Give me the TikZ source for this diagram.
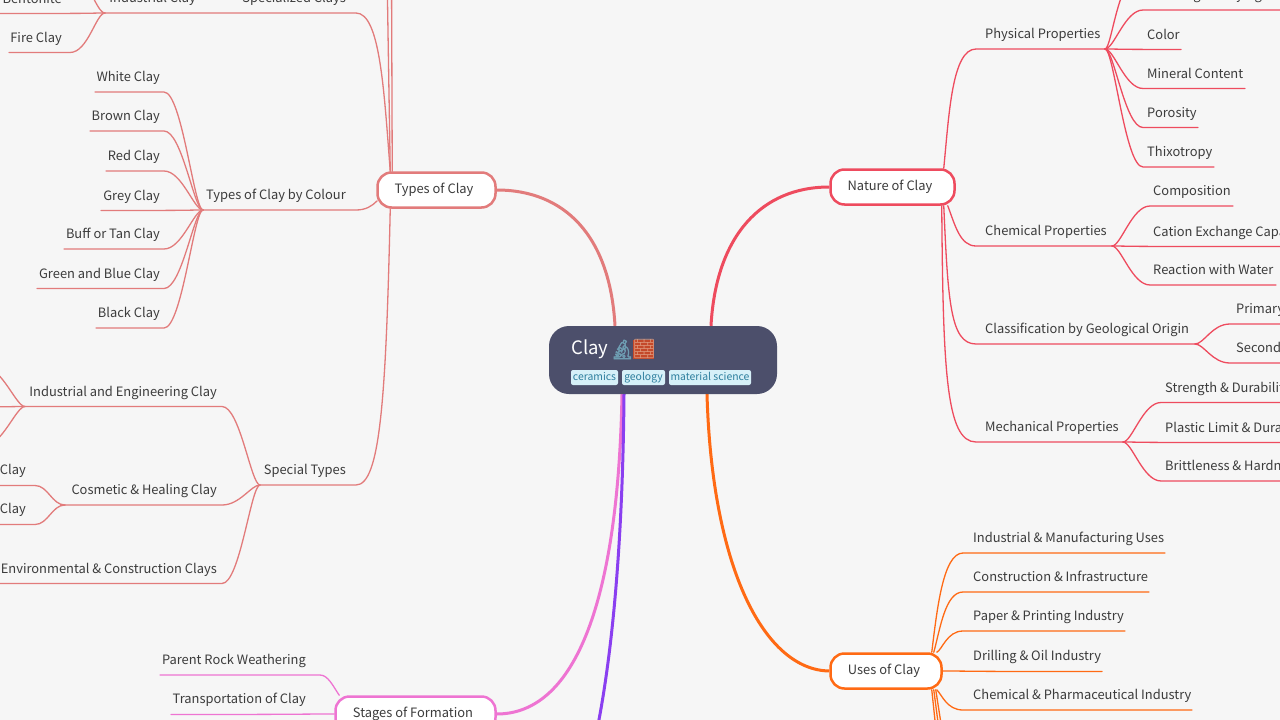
\documentclass[tikz,border=0pt]{standalone}
\usepackage{fontspec}
\setmainfont{Noto Sans CJK SC}
\newfontfamily\emojifont{Noto Emoji}
\newfontfamily\emojibold[FakeBold=2.5]{Noto Emoji}
\usetikzlibrary{backgrounds}
\definecolor{bgc}{HTML}{F6F6F6}
\definecolor{txt}{HTML}{3C3C3C}
\definecolor{natc}{HTML}{EE4B5E}
\definecolor{typc}{HTML}{E27B7B}
\definecolor{usec}{HTML}{FF6A14}
\definecolor{stgc}{HTML}{EE74D2}
\definecolor{purc}{HTML}{8A3FF0}
\definecolor{ctrc}{HTML}{4C4F6B}
\definecolor{tagc}{HTML}{D6F0F8}
\definecolor{tagt}{HTML}{2E7F9E}
\definecolor{micc}{HTML}{6E9DB2}
\definecolor{brkc}{HTML}{C4492A}
\definecolor{mortar}{HTML}{DE9A7E}
\tikzset{
  lbl/.style={text=txt,font=\fontsize{12.9}{16}\selectfont,inner sep=0pt,text height=10.5pt,text depth=3pt,yshift=-1.5pt},
  mainbox/.style={draw=#1,line width=2.5pt,fill=white,rounded corners=14pt,text=txt,inner sep=0pt},
  tagbox/.style={fill=tagc,text=tagt,rounded corners=2pt,inner sep=0pt,font=\fontsize{10.4}{13}\selectfont,text height=7.5pt,text depth=2.5pt},
  thick edge/.style={draw=#1,line width=3pt},
  thin edge/.style={draw=#1,line width=1.3pt,line cap=round},
}
% right-hand leaf: name, parent point, colour, text x, line y, line start x, line end x, text
\newcommand{\rleaf}[8]{%
  \node[lbl,anchor=west] (#1) at (#4,#5-15.5) {#8};
  \coordinate (#1-a) at (#6,#5);
  \coordinate (#1-b) at (#7,#5);
  \begin{scope}[on background layer]
  \draw[thin edge=#3] (#2) .. controls ([xshift=9pt]#2) and ([xshift=-18pt]#1-a) .. (#1-a) -- (#1-b);
  \end{scope}}
% left-hand leaf: same, text x is the right end of the text
\newcommand{\lleaf}[8]{%
  \node[lbl,anchor=east] (#1) at (#4,#5-15.5) {#8};
  \coordinate (#1-a) at (#6,#5);
  \coordinate (#1-b) at (#7,#5);
  \begin{scope}[on background layer]
  \draw[thin edge=#3] (#2) .. controls ([xshift=-9pt]#2) and ([xshift=18pt]#1-a) .. (#1-a) -- (#1-b);
  \end{scope}}
\begin{document}
\begin{tikzpicture}[x=1pt,y=-1pt]
\useasboundingbox (0,0) rectangle (1280,720);
\clip (0,0) rectangle (1280,720);
\begin{scope}[on background layer]
\fill[bgc] (0,0) rectangle (1280,720);
\end{scope}

% centre
\node[fill=ctrc,rounded corners=20pt,minimum width=228pt,minimum height=68pt,inner sep=0pt] (clay) at (663,360) {};
\node[anchor=west,text=white,inner sep=0pt,font=\fontsize{18.5}{22}\selectfont] (title) at (571,349.5) {Clay};
\node[anchor=west,inner sep=0pt,font=\emojibold\fontsize{19}{22}\selectfont,text=micc] (mic) at (610,349.5) {🔬};
\fill[brkc] (633,340) rectangle (654,359);
\node[anchor=west,inner sep=0pt,font=\emojifont\fontsize{19}{22}\selectfont,text=mortar] (brick) at (632,349.5) {🧱};
\node[tagbox,minimum width=47pt,minimum height=15pt] (tag1) at (594.5,377.5) {ceramics};
\node[tagbox,minimum width=43pt,minimum height=15pt] (tag2) at (643.5,377.5) {geology};
\node[tagbox,minimum width=82pt,minimum height=15pt] (tag3) at (710,377.5) {material science};

% main topics
\node[mainbox=natc,minimum width=124pt,minimum height=35pt] (nature) at (892.5,187) {};
\node[lbl] (naturet) at (890,185) {Nature of Clay};
\node[mainbox=usec,minimum width=111pt,minimum height=35pt] (uses) at (886,671) {};
\node[lbl] (usest) at (884,669) {Uses of Clay};
\node[mainbox=typc,minimum width=118pt,minimum height=35pt] (types) at (436.5,190) {};
\node[lbl] (typest) at (434,188) {Types of Clay};
\node[mainbox=stgc,minimum width=160pt,minimum height=35pt] (stages) at (415.5,714) {};
\node[lbl] (stagest) at (413,712) {Stages of Formation};

% attachment points on the boxes
\coordinate (cN) at ([xshift=48pt]clay.north);
\coordinate (cT) at ([xshift=-48pt]clay.north);
\coordinate (cU) at ([xshift=44pt]clay.south);
\coordinate (cS) at ([xshift=-41pt]clay.south);
\coordinate (cP) at ([xshift=-39pt]clay.south);
\coordinate (purend) at (597,730);

\begin{scope}[on background layer]
\draw[thick edge=natc] (cN) .. controls (716,235) and (762,187) .. (nature.west);
\draw[thick edge=typc] (cT) .. controls (610,235) and (564,190) .. (types.east);
\draw[thick edge=usec] (cU) .. controls (712,570) and (765,670) .. (uses.west);
\draw[thick edge=stgc] (cS) .. controls (618,610) and (572,714) .. (stages.east);
\draw[thick edge=purc] (cP) .. controls (623,520) and (615,640) .. (purend);
\end{scope}

% ---- Nature of Clay ----
\coordinate (nP) at ([xshift=-12pt]nature.north east);
\coordinate (nC) at ([xshift=-8pt]nature.south east);
\coordinate (nG) at ([xshift=-12pt]nature.south east);
\coordinate (nM) at ([xshift=-14pt]nature.south east);
\coordinate (hPhys) at (1105,49);
\coordinate (hChem) at (1112,246);
\coordinate (hGeo) at (1195,344);
\coordinate (hMech) at (1123,442);
\node[lbl,anchor=west] (phys) at (985,33.5) {Physical Properties};
\node[lbl,anchor=west] (chem) at (985,230.5) {Chemical Properties};
\node[lbl,anchor=west] (geo) at (985,328.5) {Classification by Geological Origin};
\node[lbl,anchor=west] (mech) at (985,426.5) {Mechanical Properties};
\begin{scope}[on background layer]
\draw[thin edge=natc] (nP) .. controls (949,115) and (952,49) .. (976,49) -- (hPhys);
\draw[thin edge=natc] (nC) .. controls (955,225) and (960,246) .. (976,246) -- (hChem);
\draw[thin edge=natc] (nG) .. controls (948,300) and (950,344) .. (976,344) -- (hGeo);
\draw[thin edge=natc] (nM) .. controls (943,370) and (946,442) .. (976,442) -- (hMech);
\end{scope}

\coordinate (pU1) at (1143,-29);
\coordinate (pU1b) at (1290,-29);
\begin{scope}[on background layer]
\draw[thin edge=natc] (hPhys) .. controls (1112,49) and (1118,-29) .. (pU1) -- (pU1b);
\end{scope}
\rleaf{dry}{hPhys}{natc}{1147}{10}{1143}{1290}{Shrinkage \& Drying}
\rleaf{color}{hPhys}{natc}{1147}{49.4}{1143}{1181}{Color}
\rleaf{mineral}{hPhys}{natc}{1147}{88.5}{1143}{1245}{Mineral Content}
\rleaf{poro}{hPhys}{natc}{1147}{127.5}{1143}{1198}{Porosity}
\rleaf{thixo}{hPhys}{natc}{1147}{167}{1143}{1214}{Thixotropy}
\rleaf{compo}{hChem}{natc}{1153}{206}{1150}{1233}{Composition}
\rleaf{cec}{hChem}{natc}{1153}{246.4}{1150}{1290}{Cation Exchange Capacity}
\rleaf{water}{hChem}{natc}{1153}{285}{1150}{1276}{Reaction with Water}
\rleaf{prim}{hGeo}{natc}{1236}{324}{1230}{1290}{Primary Clay}
\rleaf{sec}{hGeo}{natc}{1236}{363}{1230}{1290}{Secondary Clay}
\rleaf{stren}{hMech}{natc}{1165}{402.5}{1161}{1290}{Strength \& Durability}
\rleaf{plast}{hMech}{natc}{1165}{442.4}{1161}{1290}{Plastic Limit \& Durability}
\rleaf{britt}{hMech}{natc}{1165}{481}{1161}{1290}{Brittleness \& Hardness}

% ---- Uses of Clay ----
\coordinate (u1) at ([xshift=-11pt]uses.north east);
\coordinate (u2) at ([xshift=-9pt]uses.north east);
\coordinate (u3) at ([xshift=-6pt]uses.north east);
\coordinate (u4) at (uses.east);
\coordinate (u5) at ([xshift=-6pt]uses.south east);
\coordinate (u6) at ([xshift=-11pt]uses.south east);
\coordinate (u7) at ([xshift=-9pt]uses.south east);
\coordinate (u8) at ([xshift=-7pt]uses.south east);
\coordinate (ud1) at (936,730);
\coordinate (ud2) at (939,730);
\coordinate (ud3) at (942,730);
\begin{scope}[on background layer]
\draw[thin edge=usec] (u1) .. controls (937,610) and (943,553) .. (963,553) -- (1165,553);
\draw[thin edge=usec] (u2) .. controls (940,630) and (945,592) .. (963,592) -- (1149,592);
\draw[thin edge=usec] (u3) .. controls (942,650) and (947,631) .. (963,631) -- (1125,631);
\draw[thin edge=usec] (u4) .. controls (960,671) and (980,671.4) .. (1000,671.4) -- (1102,671.4);
\draw[thin edge=usec] (u5) .. controls (942,695) and (947,710) .. (963,710) -- (1192,710);
\draw[thin edge=usec] (u6) -- (ud1);
\draw[thin edge=usec] (u7) -- (ud2);
\draw[thin edge=usec] (u8) -- (ud3);
\end{scope}
\node[lbl,anchor=west] (um) at (973,537.5) {Industrial \& Manufacturing Uses};
\node[lbl,anchor=west] (uc) at (973,576.5) {Construction \& Infrastructure};
\node[lbl,anchor=west] (up) at (973,615.5) {Paper \& Printing Industry};
\node[lbl,anchor=west] (ud) at (973,655.5) {Drilling \& Oil Industry};
\node[lbl,anchor=west] (uch) at (973,694.5) {Chemical \& Pharmaceutical Industry};

% ---- Types of Clay ----
\coordinate (tA) at ([xshift=14pt]types.north west);
\coordinate (tU1) at (387,-30);
\coordinate (tU2) at (391.5,-30);
\coordinate (tB) at ([xshift=1pt,yshift=8pt]types.south west);
\coordinate (tC) at ([xshift=14pt]types.south west);
\coordinate (hCol) at (203,210);
\coordinate (hSpec) at (260,485);
\coordinate (hInd) at (105,13);
\coordinate (hEng) at (25,406.5);
\coordinate (hCos) at (65,505);
\node[lbl,anchor=east] (special) at (346,-2.5) {Specialized Clays};
\node[lbl,anchor=east] (indus) at (196,-2.5) {Industrial Clay};
\node[lbl,anchor=east] (colour) at (346,194.5) {Types of Clay by Colour};
\node[lbl,anchor=east] (spt) at (346,469.5) {Special Types};
\begin{scope}[on background layer]
\draw[thin edge=typc] (tA) -- (tU1);
\draw[thin edge=typc] ([xshift=2pt]tA) -- (tU2);
\draw[thin edge=typc] (tA) .. controls (384,90) and (380,13) .. (356,13) -- (hInd);
\draw[thin edge=typc] (tB) .. controls (372,206) and (366,210) .. (356,210) -- (hCol);
\draw[thin edge=typc] (tC) .. controls (386,400) and (380,485) .. (356,485) -- (hSpec);
\end{scope}

\lleaf{bent}{hInd}{typc}{62}{13.4}{70}{-10}{Bentonite}
\lleaf{fire}{hInd}{typc}{62}{52.5}{70}{9}{Fire Clay}
\coordinate (iU) at (70,-26);
\coordinate (iUb) at (-10,-26);
\begin{scope}[on background layer]
\draw[thin edge=typc] (hInd) .. controls (96,13) and (88,-26) .. (iU) -- (iUb);
\end{scope}

\lleaf{white}{hCol}{typc}{160}{92}{164}{95}{White Clay}
\lleaf{brown}{hCol}{typc}{160}{131}{164}{90}{Brown Clay}
\lleaf{red}{hCol}{typc}{160}{171}{164}{106}{Red Clay}
\lleaf{grey}{hCol}{typc}{160}{210.4}{164}{101}{Grey Clay}
\lleaf{buff}{hCol}{typc}{160}{249}{164}{64}{Buff or Tan Clay}
\lleaf{green}{hCol}{typc}{160}{288.5}{164}{37}{Green and Blue Clay}
\lleaf{black}{hCol}{typc}{160}{328}{164}{96}{Black Clay}

\lleaf{eng}{hSpec}{typc}{217}{406.5}{222}{25}{Industrial and Engineering Clay}
\lleaf{cos}{hSpec}{typc}{217}{505}{222}{65}{Cosmetic \& Healing Clay}
\lleaf{env}{hSpec}{typc}{217}{583.5}{222}{-10}{Environmental \& Construction Clays}

\coordinate (e1) at (-16,367);
\coordinate (e2) at (-16,406.9);
\coordinate (e3) at (-16,446);
\coordinate (cs1) at (35,485.5);
\coordinate (cs1b) at (-10,485.5);
\coordinate (cs2) at (35,524.5);
\coordinate (cs2b) at (-10,524.5);
\begin{scope}[on background layer]
\draw[thin edge=typc] (hEng) .. controls (16,406.5) and (2,367) .. (e1);
\draw[thin edge=typc] (hEng) .. controls (16,406.5) and (2,406.9) .. (e2);
\draw[thin edge=typc] (hEng) .. controls (16,406.5) and (2,446) .. (e3);
\draw[thin edge=typc] (hCos) .. controls (52,505) and (48,485.5) .. (cs1) -- (cs1b);
\draw[thin edge=typc] (hCos) .. controls (52,505) and (48,524.5) .. (cs2) -- (cs2b);
\end{scope}
\node[lbl,anchor=east] (kay1) at (26,469.5) {Clay};
\node[lbl,anchor=east] (kay2) at (26,508.5) {Clay};

% ---- Stages ----
\coordinate (sA) at ([xshift=5pt]stages.north west);
\coordinate (sB) at (stages.west);
\coordinate (sa) at (320,675);
\coordinate (sb) at (160,675);
\coordinate (sd) at (171,714.4);
\coordinate (sdm) at (250,714.4);
\begin{scope}[on background layer]
\draw[thin edge=stgc] (sA) .. controls (333,686) and (328,675) .. (sa) -- (sb);
\draw[thin edge=stgc] (sB) .. controls (310,714) and (280,714.4) .. (sdm) -- (sd);
\end{scope}
\node[lbl,anchor=east] (parent) at (306,659.5) {Parent Rock Weathering};
\node[lbl,anchor=east] (transp) at (306,698.5) {Transportation of Clay};
\end{tikzpicture}
\end{document}
